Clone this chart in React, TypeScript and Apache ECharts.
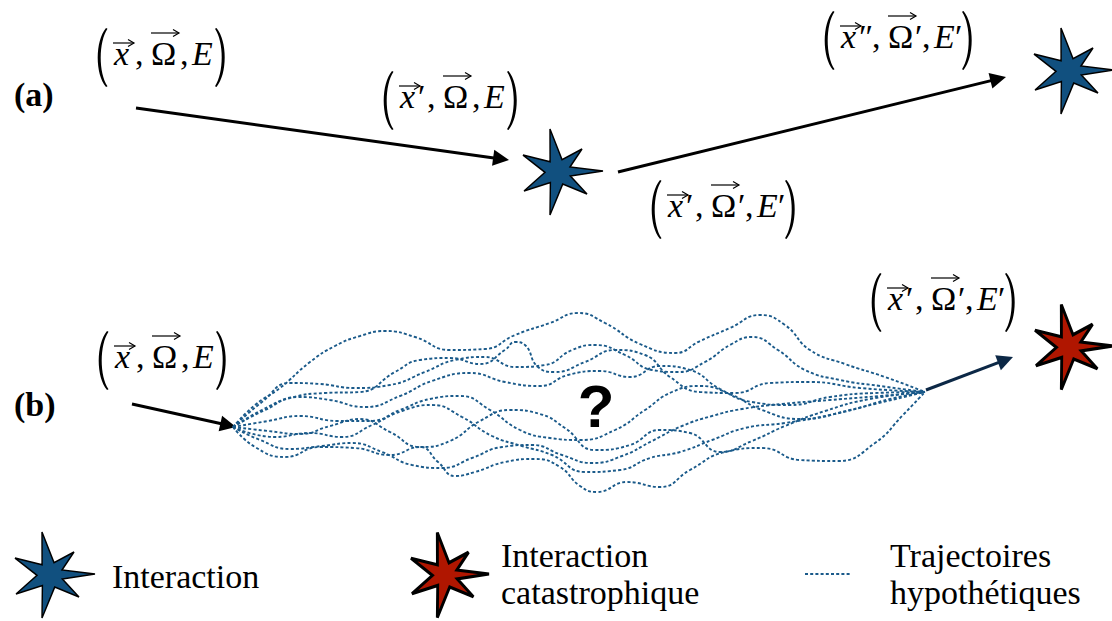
import React, { useEffect, useRef } from 'react';
import * as echarts from 'echarts';

const W = 1112;
const H = 621;

// ---- text content ----
const panelLabels = ['(a)', '(b)'];
const tupleXPrimes = ['', '′', '″', '′', '', '′'];
const tupleOmegaPrimes = ['', '', '′', '′', '', '′'];
const tupleEPrimes = ['', '', '′', '′', '', '′'];
const legendInteraction = ['Interaction'];
const legendCatastrophic = ['Interaction', 'catastrophique'];
const legendTrajectories = ['Trajectoires', 'hypothétiques'];
const unknownMark = '?';

// ---- marks (pixel-valued axes) ----
const blueStars = [[563, 172], [1074, 71], [55, 575]];
const redStars = [[1074, 347], [450, 575]];
const arrowsA = [
  [[136, 108], [509, 160]],
  [[618, 172], [1006, 77]],
];
const arrowInB = [[[132, 404], [236, 427]]];
const arrowOutB = [[[926, 390], [1013, 357]]];
const legendDash = [[805, 574], [851, 574]];

const traj1 = [[233,427],[255,405],[280,388],[310,362],[335,346],[360,336],[385,331],[415,337],[450,350],[485,349],[515,335],[550,323],[578,313],[605,323],[640,344],[675,353],[700,341],[730,328],[760,315],[785,325],[810,350],[845,364],[885,377],[925,392]];
const traj2 = [[233,427],[262,402],[290,383],[320,384],[355,388],[390,385],[425,372],[455,360],[485,357],[515,367],[545,365],[572,350],[595,345],[625,355],[652,370],[678,372],[705,362],[730,345],[752,337],[778,350],[805,370],[840,380],[880,386],[925,392]];
const traj3 = [[233,427],[265,410],[298,397],[330,400],[365,407],[400,396],[432,381],[470,373],[505,382],[540,386],[568,375],[600,371],[630,377],[660,366],[690,370],[720,389],[752,402],[790,405],[830,397],[875,393],[925,392]];
const traj4 = [[233,427],[268,421],[300,416],[338,421],[370,421],[400,410],[430,399],[460,396],[490,410],[520,430],[550,438],[580,440],[615,430],[645,410],[672,392],[700,386],[732,395],[762,410],[800,419],[850,410],[890,399],[925,392]];
const traj5 = [[233,427],[268,431],[300,434],[330,426],[360,419],[390,432],[420,447],[450,441],[480,421],[510,410],[540,414],[565,428],[595,450],[630,445],[660,430],[690,433],[720,452],[752,441],[785,426],[825,411],[870,399],[925,392]];
const traj6 = [[233,427],[260,440],[290,449],[322,446],[352,443],[382,452],[412,465],[442,468],[472,458],[502,447],[532,445],[562,455],[592,463],[622,456],[652,441],[682,426],[712,416],[742,409],[782,404],[830,400],[880,396],[925,392]];
const traj7 = [[233,427],[255,447],[285,457],[320,447],[355,448],[390,455],[420,447],[438,462],[455,476],[475,472],[505,462],[535,459],[560,467],[580,486],[597,492],[627,482],[660,487],[690,470],[725,452],[762,448],[800,460],[838,461],[875,443],[903,415],[925,392]];
const traj8 = [[233,427],[262,410],[290,398],[325,393],[360,392],[395,372],[420,360],[450,358],[480,364],[505,350],[515,342],[525,345],[538,367],[555,372],[585,362],[615,350],[645,355],[670,377],[700,392],[735,393],[770,383],[810,382],[860,388],[925,392]];
const traj9 = [[233,427],[275,437],[310,433],[342,437],[372,425],[402,411],[432,405],[462,417],[492,436],[522,446],[552,455],[585,472],[620,470],[650,458],[680,452],[712,440],[745,428],[785,423],[830,415],[875,404],[925,392]];
const trajectories = [traj1, traj2, traj3, traj4, traj5, traj6, traj7, traj8, traj9];

// ---- layout ----
const tupleAnchors = [[94, 65], [380, 108], [821, 48], [648, 217], [95, 368], [868, 310]];
const FS = 34;
const SERIF = 'Liberation Serif';
const SANS = 'Liberation Sans';
const BLUE = '#11507f';
const RED = '#b01600';
const TRAJ = '#1a5a8a';
const HEAD = 16;

const STAR_PATH =
  'path://M27,0 L39,30.6 L59,20 L47,38 L80,42 L47.4,47 L64,65 L39.7,55.1 L27,86 L27.4,53.6 L1,62 L22,43.4 L0,26 L27.1,32.7 Z';

echarts.graphic.registerShape(
  'lparen',
  echarts.graphic.extendPath('M12,0 C1,13 1,46 12,59 L13.5,58.2 C4.5,45 4.5,14 13.5,0.8 Z', {})
);
echarts.graphic.registerShape(
  'rparen',
  echarts.graphic.extendPath('M1.5,0 C12.5,13 12.5,46 1.5,59 L0,58.2 C9,45 9,14 0,0.8 Z', {})
);

function primeWidth(p: string) {
  return p === '″' ? 9 : p ? 5 : 0;
}

function textEl(
  x: number,
  baseline: number,
  s: string,
  italic: boolean,
  size = FS,
  weight = 'normal',
  family = SERIF,
  align = 'left'
) {
  return {
    type: 'text',
    x,
    y: baseline - 0.34 * size,
    silent: true,
    style: {
      text: s,
      fontSize: size,
      fontFamily: family,
      fontWeight: weight,
      fontStyle: italic ? 'italic' : 'normal',
      fill: '#000',
      textAlign: align,
      verticalAlign: 'middle',
    },
  };
}

function vecArrow(x1: number, x2: number, y: number) {
  return [
    { type: 'line', silent: true, shape: { x1, y1: y, x2, y2: y }, style: { stroke: '#000', lineWidth: 1.2 } },
    {
      type: 'polyline',
      silent: true,
      shape: { points: [[x2 - 6, y - 3.5], [x2, y], [x2 - 6, y + 3.5]] },
      style: { stroke: '#000', lineWidth: 1.2, fill: 'none' },
    },
  ];
}

function tupleElements(i: number) {
  const [L, B] = tupleAnchors[i];
  const xp = tupleXPrimes[i];
  const op = tupleOmegaPrimes[i];
  const ep = tupleEPrimes[i];
  const els: any[] = [];
  els.push({ type: 'lparen', x: L, y: B - 37, silent: true, style: { fill: '#000' } });
  let p = L + 20;
  const xPos = p;
  els.push(textEl(p, B, 'x', true));
  p += 16;
  if (xp) {
    els.push(textEl(p + 2, B, xp, false));
    p += primeWidth(xp) + 1;
  }
  const c1 = p + 5;
  els.push(textEl(c1, B, ',', false));
  const oPos = c1 + 16;
  els.push(textEl(oPos, B, 'Ω', false));
  p = oPos + 27;
  if (op) {
    els.push(textEl(p, B, op, false));
    p += primeWidth(op);
  }
  const c2 = p + 2;
  els.push(textEl(c2, B, ',', false));
  const ePos = c2 + 12;
  els.push(textEl(ePos, B, 'E', true));
  p = ePos + 21;
  if (ep) {
    els.push(textEl(p, B, ep, false));
    p += primeWidth(ep);
  }
  els.push({ type: 'rparen', x: p + 2, y: B - 37, silent: true, style: { fill: '#000' } });
  els.push(...vecArrow(xPos - 1, xPos + 20, B - 22));
  els.push(...vecArrow(oPos, oPos + 28, B - 32));
  return els;
}

function arrowData(list: number[][][]) {
  return list.map(([a, b]) => {
    const dx = b[0] - a[0];
    const dy = b[1] - a[1];
    const len = Math.hypot(dx, dy);
    const end = [b[0] - (dx / len) * (HEAD / 2), b[1] - (dy / len) * (HEAD / 2)];
    return { coords: [a, end] };
  });
}

function arrowSeries(list: number[][][], color: string) {
  return {
    type: 'lines',
    coordinateSystem: 'cartesian2d',
    data: arrowData(list),
    symbol: ['none', 'triangle'],
    symbolSize: HEAD,
    silent: true,
    z: 2,
    lineStyle: { color, width: 3, opacity: 1, curveness: 0 },
  };
}

export default function App() {
  const ref = useRef<HTMLDivElement>(null);
  useEffect(() => {
    if (!ref.current) return;
    const chart = echarts.init(ref.current, null, { renderer: 'svg' });
    const graphics: any[] = [];
    for (let i = 0; i < tupleAnchors.length; i++) graphics.push(...tupleElements(i));
    graphics.push(textEl(14, 106, panelLabels[0], false, FS, 'bold'));
    graphics.push(textEl(14, 416, panelLabels[1], false, FS, 'bold'));
    graphics.push(textEl(596, 427, unknownMark, false, 60, 'bold', SANS, 'center'));
    graphics.push(textEl(112, 588, legendInteraction[0], false));
    graphics.push(textEl(501, 567, legendCatastrophic[0], false));
    graphics.push(textEl(501, 604, legendCatastrophic[1], false));
    graphics.push(textEl(890, 567, legendTrajectories[0], false));
    graphics.push(textEl(890, 604, legendTrajectories[1], false));

    const series: any[] = [];
    trajectories.forEach((t, i) => {
      series.push({
        type: 'line',
        name: 'traj' + i,
        data: t,
        smooth: 0.5,
        showSymbol: false,
        symbol: 'none',
        silent: true,
        z: 3,
        lineStyle: { color: TRAJ, width: 1.9, type: [3, 2.2] },
      });
    });
    series.push({
      type: 'line',
      data: legendDash,
      showSymbol: false,
      symbol: 'none',
      silent: true,
      lineStyle: { color: TRAJ, width: 1.9, type: [3, 2.2] },
    });
    series.push(arrowSeries(arrowsA, '#000'));
    series.push(arrowSeries(arrowInB, '#000'));
    series.push(arrowSeries(arrowOutB, '#0c2846'));
    series.push({
      type: 'scatter',
      data: blueStars,
      symbol: STAR_PATH,
      symbolSize: [80, 86],
      silent: true,
      z: 5,
      itemStyle: { color: BLUE, borderColor: '#000', borderWidth: 1.5, opacity: 1 },
    });
    series.push({
      type: 'scatter',
      data: redStars,
      symbol: STAR_PATH,
      symbolSize: [78, 85],
      silent: true,
      z: 5,
      itemStyle: { color: RED, borderColor: '#000', borderWidth: 3, opacity: 1 },
    });

    chart.setOption({
      animation: false,
      backgroundColor: '#fff',
      grid: { left: 0, right: 0, top: 0, bottom: 0, containLabel: false },
      xAxis: { type: 'value', min: 0, max: W, show: false },
      yAxis: { type: 'value', min: 0, max: H, inverse: true, show: false },
      tooltip: { show: false },
      series,
      graphic: { elements: graphics },
    });
    return () => chart.dispose();
  }, []);
  return (
    <div
      ref={ref}
      style={{ position: 'absolute', left: 0, top: 0, width: W, height: H, background: '#fff' }}
    />
  );
}
